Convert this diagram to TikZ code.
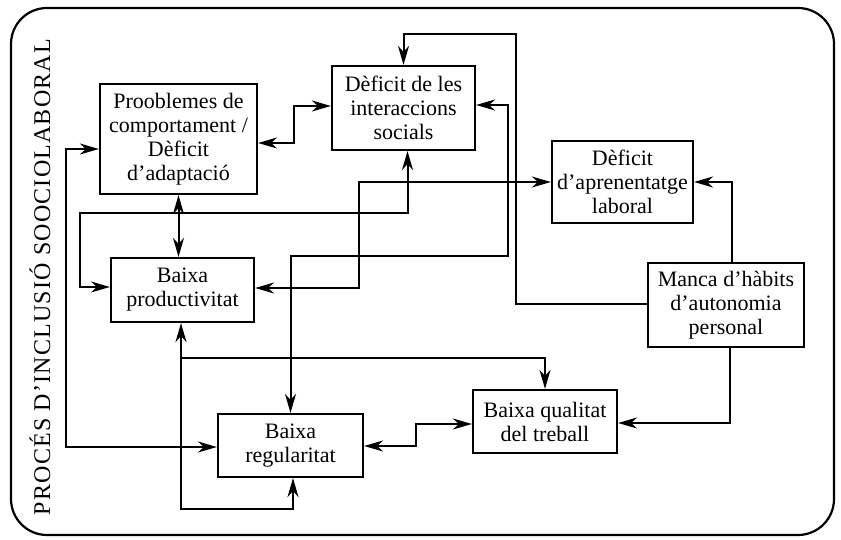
\documentclass[tikz,border=0pt]{standalone}
\usepackage{fontspec}
\setmainfont{Liberation Serif}
\usetikzlibrary{arrows.meta,calc}
\begin{document}
\begin{tikzpicture}[x=1pt,y=-1pt,
  >={Stealth[length=19pt,width=11pt,inset=6pt]},
  box/.style={draw, line width=2.2pt, align=center, inner sep=0pt,
              font=\fontsize{22}{24}\selectfont},
  con/.style={line width=2pt},
  frame/.style={line width=2.2pt, rounded corners=36pt}]
\useasboundingbox (0,0) rectangle (841,540);
\draw[frame] (11,8) rectangle (834,535);
\node[rotate=90, font=\fontsize{24}{24}\selectfont\addfontfeatures{LetterSpace=5}] (title) at (40,277) {PROCÉS D'INCLUSIÓ SOOCIOLABORAL};

\node[box, minimum width=157pt, minimum height=110pt] (prob) at (178.5,139) {Prooblemes de\\comportament /\\Dèficit\\d'adaptació};
\node[box, minimum width=143pt, minimum height=84pt] (inter) at (403.5,108) {Dèficit de les\\interaccions\\socials};
\node[box, minimum width=141pt, minimum height=82pt] (apr) at (622.5,182) {Dèficit\\d’aprenentatge\\laboral};
\node[box, minimum width=143pt, minimum height=64pt] (prod) at (182.5,290) {Baixa\\productivitat};
\node[box, minimum width=156pt, minimum height=84pt] (manca) at (726,305) {Manca d’hàbits\\d’autonomia\\personal};
\node[box, minimum width=144pt, minimum height=63pt] (qual) at (545,421.5) {Baixa qualitat\\del treball};
\node[box, minimum width=145pt, minimum height=63pt] (reg) at (290.5,445.5) {Baixa\\regularitat};

% connectors
\draw[con,<->] ([yshift=-4pt]prob.east) -- ++(36,0) |- ([yshift=2pt]inter.west);
\draw[con,<->] (prob.south) -- (prob.south |- prod.north);
\draw[con,<->] ([xshift=4pt]inter.south) -- ++(0,62) -- ++(-327.5,0) |- ([yshift=3pt]prod.west);
\draw[con,<->] ([yshift=-10pt]prob.west) -- ++(-33,0) |- ([yshift=-1.5pt]reg.west);
\draw[con,<->] ([yshift=2pt]prod.east) -- ++(104,0) |- (apr.west);
\draw[con,<->] ([yshift=3pt]inter.east) -- ++(32,0) -- ++(0,151) -| (reg.north);
\draw[con,->] ([xshift=4pt]manca.south) |- ([yshift=-1.5pt]qual.east);
\draw[con,->] ([xshift=6pt]manca.north) |- (apr.east);
\draw[con,->] ([yshift=1pt]manca.west) -- ++(-131,0) -- ++(0,-270) -| (inter.north);
\draw[con,<->] ([xshift=-1.5pt]prod.south) -- ++(0,186) -| ([xshift=2.5pt]reg.south);
\coordinate (br) at ($(prod.south)+(-1.5,35)$);
\draw[con,->] (br) -| (qual.north);
\draw[con,<->] ([yshift=-0.5pt]reg.east) -- ++(52,0) |- ([yshift=-2.5pt]qual.west);
\end{tikzpicture}
\end{document}
